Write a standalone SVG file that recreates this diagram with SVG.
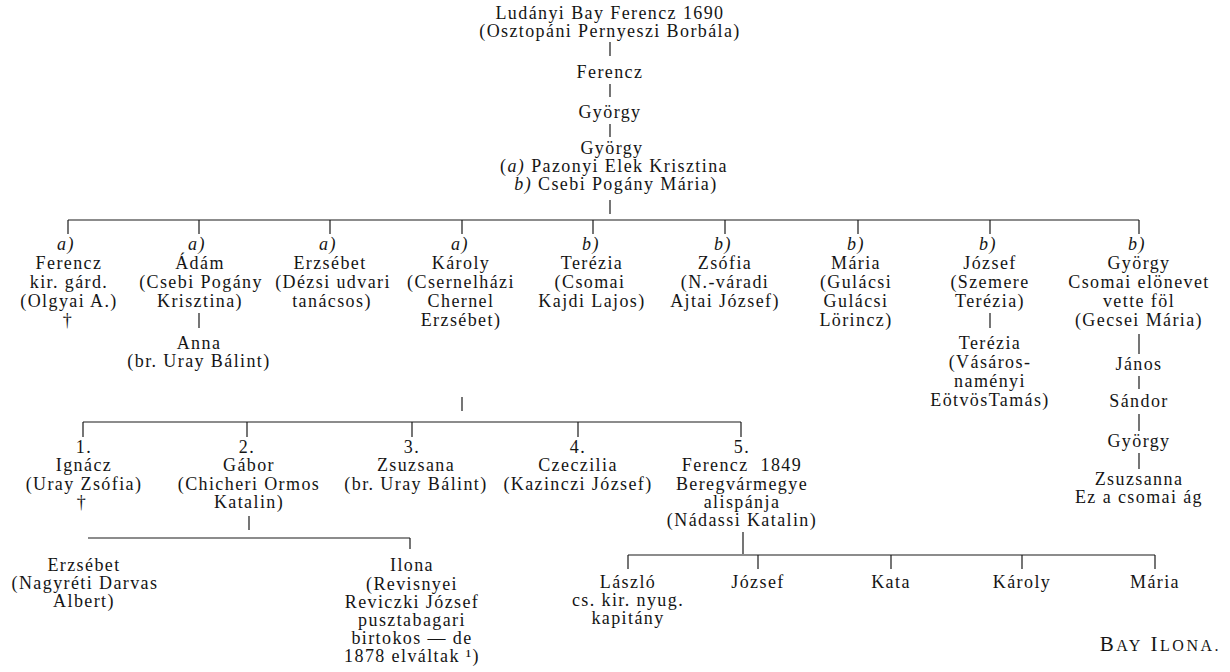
<svg xmlns="http://www.w3.org/2000/svg" width="1230" height="672" viewBox="0 0 1230 672">
<style>
text{font-family:"Liberation Serif","Times New Roman",serif;font-size:18px;letter-spacing:1.4px;fill:#151515;text-anchor:middle}
.i{font-style:italic}
.c line{stroke:#1a1a1a;stroke-width:1.2}
.sc{font-size:16px}
.big{font-size:21px}
</style>
<rect width="1230" height="672" fill="#fff"/>
<g class="c" id="connectors">
<line x1="610" y1="42" x2="610" y2="56"/>
<line x1="610" y1="84" x2="610" y2="97"/>
<line x1="610" y1="124" x2="610" y2="137"/>
<line x1="610" y1="200" x2="610" y2="214"/>
<line x1="68" y1="220" x2="1139" y2="220"/>
<line x1="68" y1="220" x2="68" y2="234"/>
<line x1="199" y1="220" x2="199" y2="234"/>
<line x1="330" y1="220" x2="330" y2="234"/>
<line x1="462" y1="220" x2="462" y2="234"/>
<line x1="593" y1="220" x2="593" y2="234"/>
<line x1="725" y1="220" x2="725" y2="234"/>
<line x1="858" y1="220" x2="858" y2="234"/>
<line x1="990" y1="220" x2="990" y2="234"/>
<line x1="1139" y1="220" x2="1139" y2="234"/>
<line x1="199" y1="313" x2="199" y2="328"/>
<line x1="990" y1="313" x2="990" y2="328"/>
<line x1="1139" y1="334" x2="1139" y2="354"/>
<line x1="1139" y1="376" x2="1139" y2="389"/>
<line x1="1139" y1="414" x2="1139" y2="431"/>
<line x1="1139" y1="453" x2="1139" y2="469"/>
<line x1="462" y1="397" x2="462" y2="411"/>
<line x1="83" y1="422" x2="741" y2="422"/>
<line x1="83" y1="422" x2="83" y2="437"/>
<line x1="247" y1="422" x2="247" y2="437"/>
<line x1="412" y1="422" x2="412" y2="437"/>
<line x1="578" y1="422" x2="578" y2="437"/>
<line x1="741" y1="422" x2="741" y2="437"/>
<line x1="249" y1="516" x2="249" y2="530"/>
<line x1="88" y1="538" x2="410" y2="538"/>
<line x1="410" y1="538" x2="410" y2="549"/>
<line x1="743" y1="532" x2="743" y2="554"/>
<line x1="628" y1="555" x2="1155" y2="555"/>
<line x1="628" y1="555" x2="628" y2="569"/>
<line x1="758" y1="555" x2="758" y2="569"/>
<line x1="891" y1="555" x2="891" y2="569"/>
<line x1="1022" y1="555" x2="1022" y2="569"/>
<line x1="1155" y1="555" x2="1155" y2="569"/>
</g>
<g id="n-root">
<text x="610" y="19">Ludányi Bay Ferencz 1690</text>
<text x="610" y="37">(Osztopáni Pernyeszi Borbála)</text>
</g>
<g id="n-ferencz"><text x="610" y="78">Ferencz</text></g>
<g id="n-gyorgy1"><text x="610" y="118">György</text></g>
<g id="n-gyorgy2">
<text x="612" y="154">György</text>
<text x="614" y="172">(<tspan class="i">a)</tspan> Pazonyi Elek Krisztina</text>
<text x="616" y="190"><tspan class="i">b)</tspan> Csebi Pogány Mária)</text>
</g>
<g id="c1-ferencz">
<text class="i" x="66" y="250">a)</text>
<text x="69" y="269">Ferencz</text>
<text x="69" y="288">kir. gárd.</text>
<text x="69" y="307">(Olgyai A.)</text>
<text x="68" y="326">†</text>
</g>
<g id="c2-adam">
<text class="i" x="197" y="250">a)</text>
<text x="200" y="269">Ádám</text>
<text x="201" y="288">(Csebi Pogány</text>
<text x="200" y="307">Krisztina)</text>
</g>
<g id="g-anna">
<text x="199" y="349">Anna</text>
<text x="199" y="367">(br. Uray Bálint)</text>
</g>
<g id="c3-erzsebet">
<text class="i" x="328" y="250">a)</text>
<text x="330" y="269">Erzsébet</text>
<text x="333" y="288">(Dézsi udvari</text>
<text x="332" y="307">tanácsos)</text>
</g>
<g id="c4-karoly">
<text class="i" x="460" y="250">a)</text>
<text x="461" y="269">Károly</text>
<text x="461" y="288">(Csernelházi</text>
<text x="461" y="307">Chernel</text>
<text x="461" y="326">Erzsébet)</text>
</g>
<g id="c5-terezia">
<text class="i" x="591" y="250">b)</text>
<text x="592" y="269">Terézia</text>
<text x="590" y="288">(Csomai</text>
<text x="592" y="307">Kajdi Lajos)</text>
</g>
<g id="c6-zsofia">
<text class="i" x="723" y="250">b)</text>
<text x="725" y="269">Zsófia</text>
<text x="725" y="288">(N.-váradi</text>
<text x="725" y="307">Ajtai József)</text>
</g>
<g id="c7-maria">
<text class="i" x="856" y="250">b)</text>
<text x="856" y="269">Mária</text>
<text x="856" y="288">(Gulácsi</text>
<text x="856" y="307">Gulácsi</text>
<text x="856" y="326">Lörincz)</text>
</g>
<g id="c8-jozsef">
<text class="i" x="988" y="250">b)</text>
<text x="990" y="269">József</text>
<text x="990" y="288">(Szemere</text>
<text x="990" y="307">Terézia)</text>
</g>
<g id="g-terezia">
<text x="990" y="349">Terézia</text>
<text x="990" y="368">(Vásáros-</text>
<text x="990" y="387">naményi</text>
<text x="990" y="406">EötvösTamás)</text>
</g>
<g id="c9-gyorgy">
<text class="i" x="1137" y="250">b)</text>
<text x="1139" y="269">György</text>
<text x="1139" y="288">Csomai elönevet</text>
<text x="1139" y="307">vette föl</text>
<text x="1139" y="326">(Gecsei Mária)</text>
</g>
<g id="g-janos"><text x="1139" y="370">János</text></g>
<g id="g-sandor"><text x="1139" y="407">Sándor</text></g>
<g id="g-gyorgy3"><text x="1139" y="447">György</text></g>
<g id="g-zsuzsanna">
<text x="1139" y="485">Zsuzsanna</text>
<text x="1139" y="503">Ez a csomai ág</text>
</g>
<g id="k1-ignacz">
<text x="84" y="453">1.</text>
<text x="84" y="471">Ignácz</text>
<text x="84" y="490">(Uray Zsófia)</text>
<text x="82" y="508">†</text>
</g>
<g id="k2-gabor">
<text x="247" y="453">2.</text>
<text x="249" y="471">Gábor</text>
<text x="249" y="490">(Chicheri Ormos</text>
<text x="249" y="508">Katalin)</text>
</g>
<g id="k3-zsuzsana">
<text x="412" y="453">3.</text>
<text x="416" y="471">Zsuzsana</text>
<text x="416" y="490">(br. Uray Bálint)</text>
</g>
<g id="k4-czeczilia">
<text x="578" y="453">4.</text>
<text x="578" y="471">Czeczilia</text>
<text x="578" y="490">(Kazinczi József)</text>
</g>
<g id="k5-ferencz">
<text x="742" y="453">5.</text>
<text x="742" y="471">Ferencz <tspan dx="6">1849</tspan></text>
<text x="742" y="490">Beregvármegye</text>
<text x="742" y="508">alispánja</text>
<text x="742" y="526">(Nádassi Katalin)</text>
</g>
<g id="e-erzsebet">
<text x="84" y="571">Erzsébet</text>
<text x="85" y="589">(Nagyréti Darvas</text>
<text x="84" y="607">Albert)</text>
</g>
<g id="e-ilona">
<text x="412" y="571">Ilona</text>
<text x="412" y="590">(Revisnyei</text>
<text x="412" y="608">Reviczki József</text>
<text x="412" y="626">pusztabagari</text>
<text x="412" y="644">birtokos — de</text>
<text x="412" y="662">1878 elváltak ¹)</text>
</g>
<g id="f-laszlo">
<text x="628" y="588">László</text>
<text x="628" y="606">cs. kir. nyug.</text>
<text x="628" y="624">kapitány</text>
</g>
<g id="f-jozsef"><text x="758" y="588">József</text></g>
<g id="f-kata"><text x="891" y="588">Kata</text></g>
<g id="f-karoly"><text x="1022" y="588">Károly</text></g>
<g id="f-maria"><text x="1155" y="588">Mária</text></g>
<g id="caption">
<text x="1221" y="651" style="text-anchor:end;letter-spacing:2.5px"><tspan class="big">B</tspan><tspan class="sc">AY</tspan><tspan class="big"> I</tspan><tspan class="sc">LONA.</tspan></text>
</g>
</svg>
